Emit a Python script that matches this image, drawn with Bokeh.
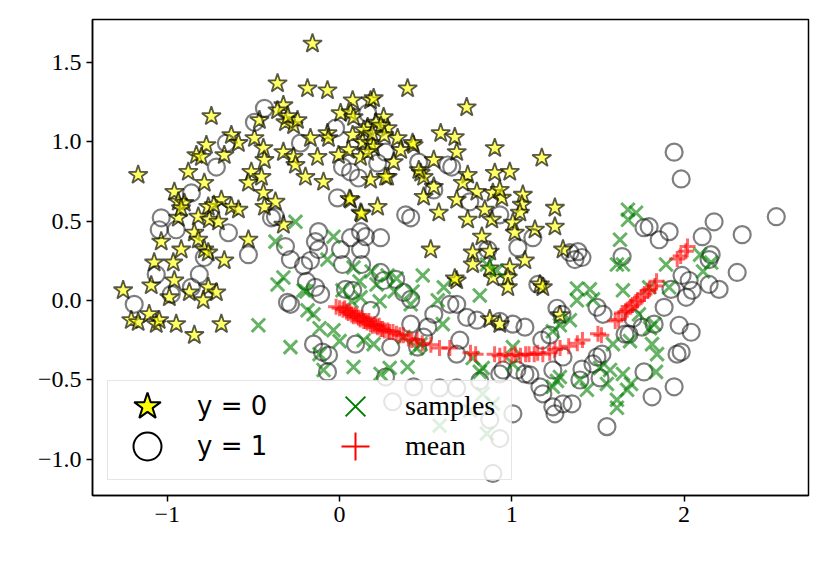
from bokeh.plotting import figure
from bokeh.models import Range1d, FixedTicker, Legend, LegendItem, ColumnDataSource
from bokeh.embed import file_html
from bokeh.resources import INLINE

# ---- data ----
star_pts = [(-0.157,1.618),(-0.360,1.367),(-0.186,1.335),(-0.070,1.323),(0.395,1.335),(-0.744,1.160),(-1.169,0.790),(-0.773,0.978),(-0.831,0.915),(-0.802,0.903),(-0.628,1.041),(-0.587,0.991),(-0.669,0.915),(-0.878,0.809),(-0.785,0.740),(-0.959,0.683),(-0.936,0.621),(-0.901,0.614),(-0.762,0.589),(-0.686,0.633),(-0.628,0.589),(-0.587,0.571),(-0.820,0.527),(-0.756,0.508),(-0.703,0.495),(-0.936,0.520),(-1.035,0.370),(-0.843,0.426),(-0.820,0.382),(-0.919,0.320),(-0.785,0.320),(-0.762,0.301),(-0.529,0.382),(-0.494,1.022),(-0.442,0.959),(-0.436,0.884),(-0.512,0.809),(-0.453,0.777),(-0.529,0.740),(-0.442,0.677),(-0.436,0.589),(-0.465,1.135),(-0.326,1.229),(-0.360,1.197),(-0.314,1.122),(-0.267,1.103),(-0.244,1.135),(-0.169,1.022),(-0.070,1.053),(-0.064,1.022),(0.076,1.260),(0.180,1.260),(0.198,1.273),(0.006,1.179),(0.064,1.185),(0.081,1.154),(0.256,1.154),(0.279,1.085),(0.163,1.091),(0.140,1.072),(0.076,1.041),(0.134,0.997),(0.180,0.991),(0.198,0.966),(0.337,1.022),(0.430,0.978),(0.424,0.991),(0.355,0.947),(0.314,0.871),(0.279,0.777),(0.052,0.947),(-0.006,0.915),(0.122,0.903),(0.163,0.934),(0.180,0.759),(0.267,0.777),(-0.326,0.934),(-0.267,0.903),(-0.256,0.853),(-0.128,0.903),(-0.198,0.777),(-0.093,0.746),(0.471,0.803),(0.488,0.777),(0.547,0.884),(0.587,1.053),(0.488,0.652),(0.547,0.715),(0.064,0.633),(0.221,0.589),(0.122,0.552),(0.576,0.552),(-0.372,0.621),(-0.326,0.476),(0.529,0.320),(0.738,1.216),(0.669,1.028),(0.680,0.934),(0.901,0.959),(1.174,0.897),(0.744,0.790),(0.715,0.740),(0.797,0.683),(0.680,0.633),(0.901,0.803),(0.988,0.809),(0.890,0.677),(0.942,0.646),(0.930,0.696),(1.064,0.665),(1.058,0.602),(1.047,0.552),(0.843,0.571),(0.884,0.508),(0.744,0.508),(1.006,0.489),(1.017,0.426),(0.826,0.401),(1.134,0.445),(1.250,0.583),(1.250,0.464),(0.872,0.307),(0.773,0.301),(1.297,0.320),(-1.256,0.063),(-1.093,0.094),(-1.076,0.238),(-0.965,0.238),(-0.959,0.125),(-1.209,-0.125),(-1.169,-0.138),(-1.105,-0.088),(-1.064,-0.150),(-1.047,-0.125),(-0.948,-0.150),(-0.843,-0.219),(-0.686,-0.150),(-0.762,0.082),(-0.715,0.050),(-0.791,0.0),(-0.872,0.050),(-0.988,0.019),(-0.669,0.251),(0.680,0.125),(0.988,0.207),(0.977,0.144),(0.977,0.082),(0.890,0.144),(1.163,0.100),(1.180,0.082),(0.872,-0.119),(0.930,-0.150),(1.279,-0.094),(1.076,0.251),(0.773,0.226),(0.058,0.639),(0.128,0.545),(0.669,0.138),(0.872,0.201),(0.21,1.12),(0.24,1.10),(0.19,1.05),(0.26,1.04),(0.46,0.82),(-0.30,1.16),(-0.92,0.58),(-0.73,0.60)]

circle_pts = [(-0.436,1.210),(-0.494,1.122),(-0.657,0.991),(-0.715,0.840),(-0.860,0.677),(-1.035,0.520),(-1.047,0.445),(-0.948,0.445),(-0.645,0.426),(-0.529,0.288),(-0.785,0.270),(-0.395,0.520),(-0.023,1.085),(-0.227,0.991),(0.163,1.179),(0.267,0.934),(0.221,0.865),(0.017,0.840),(0.064,0.809),(0.110,0.771),(0.459,0.871),(0.547,0.696),(0.628,0.853),(-0.012,0.646),(0.384,0.539),(0.413,0.520),(-0.372,0.527),(-0.314,0.339),(-0.122,0.433),(-0.140,0.370),(-0.122,0.320),(0.064,0.395),(0.122,0.433),(0.151,0.401),(0.238,0.395),(0.122,0.320),(0.006,0.320),(0.651,0.840),(0.756,0.621),(0.930,0.539),(1.122,0.395),(1.035,0.332),(0.860,0.320),(1.384,0.307),(1.337,0.301),(1.640,0.276),(1.942,0.934),(1.983,0.765),(2.535,0.527),(2.174,0.495),(1.797,0.464),(1.767,0.458),(1.913,0.433),(1.855,0.382),(2.105,0.401),(2.337,0.414),(2.157,0.288),(-1.064,0.163),(-0.977,0.038),(-0.860,0.082),(-0.814,0.163),(-1.192,-0.025),(-0.302,-0.013),(-0.285,-0.025),(-0.285,0.257),(-0.209,0.219),(-0.169,0.251),(-0.140,0.082),(-0.110,0.038),(-0.151,-0.276),(-0.099,-0.326),(-0.064,-0.345),(-0.070,-0.451),(0.035,0.069),(0.076,0.063),(0.093,-0.276),(0.238,0.176),(0.256,0.125),(0.326,0.132),(0.372,0.050),(0.413,0.006),(0.180,-0.063),(0.297,-0.295),(0.453,-0.295),(0.488,-0.232),(0.413,-0.150),(0.547,-0.088),(0.512,-0.169),(0.267,-0.483),(0.430,-0.545),(0.308,-0.639),(0.640,-0.025),(0.738,-0.107),(0.797,-0.125),(1.006,-0.150),(1.076,-0.169),(1.151,0.100),(1.291,-0.088),(1.221,-0.219),(1.174,-0.251),(1.494,-0.044),(1.529,-0.088),(1.297,-0.357),(1.238,-0.439),(1.407,-0.433),(1.395,-0.502),(1.523,-0.339),(1.494,-0.357),(1.163,-0.545),(1.180,-0.589),(1.238,-0.671),(1.250,-0.715),(1.297,-0.652),(1.349,-0.652),(1.006,-0.715),(1.552,-0.796),(1.029,-0.439),(1.076,-0.464),(1.105,-0.470),(0.948,-0.439),(0.698,-0.251),(0.680,-0.339),(0.872,-0.752),(0.930,-0.871),(0.890,-1.091),(1.407,0.270),(1.366,0.257),(1.657,-0.213),(2.308,0.176),(1.988,0.157),(2.029,0.125),(2.047,0.063),(2.012,0.019),(2.145,0.100),(2.203,0.069),(1.924,0.069),(1.884,-0.044),(1.971,-0.157),(2.041,-0.201),(1.826,-0.150),(1.756,-0.169),(1.680,-0.213),(1.983,-0.326),(1.767,-0.451),(1.942,-0.545),(1.814,-0.608),(2.145,0.257),(0.017,0.226),(0.128,0.226),(-0.192,0.119),(0.680,-0.025),(0.930,-0.132),(1.262,-0.050),(1.703,-0.113),(1.959,-0.339),(0.814,-0.508),(0.930,-0.464),(1.471,-0.401),(1.512,-0.489),(0.581,-0.552),(0.680,-0.552)]

sample_pts = [(-0.256,0.495),(-0.035,0.401),(-0.372,0.370),(1.628,0.382),(1.674,0.571),(1.674,0.508),(1.721,0.552),(-0.471,-0.157),(-0.326,0.144),(-0.360,0.100),(-0.209,0.063),(-0.285,-0.295),(-0.151,-0.088),(-0.186,-0.063),(-0.035,-0.188),(-0.093,-0.439),(0.081,-0.420),(-0.070,0.257),(0.081,0.207),(0.279,0.157),(0.483,0.157),(0.017,0.063),(0.122,0.019),(0.413,-0.025),(0.140,-0.251),(0.198,-0.276),(0.372,-0.232),(0.471,-0.276),(0.238,-0.464),(0.395,-0.420),(0.570,0.0),(0.605,0.082),(0.814,0.031),(1.453,0.069),(1.471,0.006),(1.378,0.0),(1.337,-0.125),(1.279,-0.157),(1.238,-0.545),(1.279,-0.483),(1.395,-0.502),(1.436,-0.564),(1.552,-0.527),(1.610,-0.627),(1.570,-0.439),(0.831,-0.589),(0.855,-0.840),(0.890,-0.652),(0.814,-0.451),(0.913,0.188),(1.645,0.226),(1.645,0.063),(1.645,-0.464),(1.669,-0.564),(1.006,-0.295),(1.895,0.226),(2.157,0.238),(1.797,0.082),(1.913,0.082),(1.826,-0.150),(1.814,-0.276),(1.837,-0.451),(1.692,-0.527),(1.738,-0.088),(-0.192,0.056),(0.116,0.119),(0.215,0.100),(0.331,0.138),(0.424,0.056),(0.855,0.226),(-0.116,-0.176),(0.0,-0.257),(-0.116,-0.339),(0.291,-0.426),(0.448,-0.301),(0.599,-0.150),(0.773,-0.364),(0.831,-0.426),(1.006,-0.401),(1.238,-0.195),(1.262,-0.508),(1.378,0.075),(1.610,0.226),(1.587,-0.276),(1.686,-0.257),(1.802,-0.176),(1.843,-0.339),(2.093,0.288),(2.110,0.182),(1.512,-0.426),(1.610,-0.677),(0.581,-0.790),(0.756,-0.696),(0.186,0.182),(0.320,0.056),(0.233,-0.006),(0.070,-0.006)]

mean_pts = [(-0.02,-0.04),(0.0,-0.05),(0.02,-0.06),(0.03,-0.05),(0.04,-0.07),(0.05,-0.08),(0.06,-0.07),(0.07,-0.09),(0.08,-0.10),(0.09,-0.09),(0.10,-0.10),(0.11,-0.11),(0.12,-0.12),(0.13,-0.11),(0.14,-0.13),(0.15,-0.13),(0.16,-0.14),(0.17,-0.13),(0.18,-0.15),(0.19,-0.16),(0.20,-0.15),(0.21,-0.16),(0.22,-0.17),(0.23,-0.16),(0.24,-0.18),(0.25,-0.18),(0.26,-0.19),(0.28,-0.19),(0.29,-0.20),(0.31,-0.20),(0.33,-0.21),(0.35,-0.22),(0.37,-0.22),(0.40,-0.24),(0.42,-0.25),(0.45,-0.25),(0.48,-0.27),(0.53,-0.28),(0.58,-0.30),(0.64,-0.30),(0.76,-0.33),(0.79,-0.34),(0.90,-0.34),(0.93,-0.35),(0.96,-0.34),(1.00,-0.35),(1.02,-0.34),(1.05,-0.35),(1.08,-0.34),(1.10,-0.34),(1.13,-0.34),(1.15,-0.33),(1.18,-0.34),(1.22,-0.33),(1.25,-0.31),(1.28,-0.30),(1.33,-0.29),(1.38,-0.27),(1.41,-0.25),(1.50,-0.21),(1.52,-0.22),(1.60,-0.13),(1.62,-0.12),(1.64,-0.08),(1.66,-0.07),(1.67,-0.06),(1.69,-0.04),(1.70,-0.03),(1.72,-0.01),(1.73,0.0),(1.75,0.02),(1.77,0.04),(1.79,0.06),(1.80,0.07),(1.83,0.09),(1.84,0.12),(1.96,0.26),(1.98,0.28),(2.01,0.31),(2.02,0.34)]

star_x = [a for a, b in star_pts]; star_y = [b for a, b in star_pts]
circ_x = [a for a, b in circle_pts]; circ_y = [b for a, b in circle_pts]
samp_x = [a for a, b in sample_pts]; samp_y = [b for a, b in sample_pts]
mean_x = [a for a, b in mean_pts]; mean_y = [b for a, b in mean_pts]

x_ticks = [-1, 0, 1, 2]
y_ticks = [-1.0, -0.5, 0.0, 0.5, 1.0, 1.5]
x_tick_labels = {-1: "\u22121", 0: "0", 1: "1", 2: "2"}
y_tick_labels = {-1.0: "\u22121.0", -0.5: "\u22120.5", 0.0: "0.0", 0.5: "0.5", 1.0: "1.0", 1.5: "1.5"}

# ---- figure ----
p = figure(frame_width=716, frame_height=476,
           x_range=Range1d(-1.434, 2.722), y_range=Range1d(-1.230, 1.770),
           output_backend="svg", toolbar_location=None,
           min_border_left=92, min_border_top=19, min_border_right=12, min_border_bottom=50)
p.xgrid.visible = False
p.ygrid.visible = False
p.outline_line_color = "black"
p.outline_line_width = 1.5
p.background_fill_color = "white"

for ax in (p.xaxis[0], p.yaxis[0]):
    ax.major_label_text_font = "Liberation Serif"
    ax.major_label_text_font_size = "24px"
    ax.major_label_text_color = "black"
    ax.axis_line_width = 1.5
    ax.major_tick_line_width = 1.5
    ax.major_tick_out = 6
    ax.major_tick_in = 0
    ax.minor_tick_out = 0
    ax.minor_tick_in = 0
    ax.major_label_standoff = 5

p.xaxis.ticker = FixedTicker(ticks=x_ticks)
p.yaxis.ticker = FixedTicker(ticks=y_ticks)
p.xaxis.major_label_overrides = x_tick_labels
p.yaxis.major_label_overrides = y_tick_labels

src_s = ColumnDataSource(dict(x=star_x, y=star_y))
src_c = ColumnDataSource(dict(x=circ_x, y=circ_y))
src_g = ColumnDataSource(dict(x=samp_x, y=samp_y))
src_m = ColumnDataSource(dict(x=mean_x, y=mean_y))

p.scatter("x", "y", source=src_s, marker="star", size=20, fill_color="yellow",
          line_color="black", fill_alpha=0.6, line_alpha=0.65, line_width=1.8)
p.scatter("x", "y", source=src_c, marker="circle", size=17, fill_color=None,
          line_color="black", line_alpha=0.5, line_width=2.2)
p.scatter("x", "y", source=src_g, marker="x", size=19, line_color="green",
          line_alpha=0.6, line_width=3)
p.scatter("x", "y", source=src_m, marker="cross", size=16, line_color="red",
          line_alpha=0.6, line_width=3)

# hidden proxies that only supply opaque legend keys
k_s = p.scatter("x", "y", source=src_s, marker="star", size=20, fill_color="yellow",
                line_color="black", line_width=2, visible=False)
k_c = p.scatter("x", "y", source=src_c, marker="circle", size=17, fill_color=None,
                line_color="black", line_width=2, visible=False)
k_g = p.scatter("x", "y", source=src_g, marker="x", size=19, line_color="green",
                line_width=2, visible=False)
k_m = p.scatter("x", "y", source=src_m, marker="cross", size=16, line_color="red",
                line_width=2, visible=False)
k_none = p.scatter("x", "y", source=src_c, marker="circle", size=1, fill_alpha=0,
                   line_alpha=0, visible=False)

# legend frame (one empty item sized to the box)
frame = Legend(items=[LegendItem(label=" ", renderers=[k_none])],
               location=(15, 15), padding=0, spacing=0,
               glyph_width=20, glyph_height=98, label_standoff=0,
               label_width=383, label_height=98,
               border_line_color="#cccccc", border_line_width=1.5,
               background_fill_color="white", background_fill_alpha=0.8)
p.add_layout(frame, "center")

def key(label, rend, x, y, font, fsize):
    return Legend(items=[LegendItem(label=label, renderers=[rend])],
                  location=(x, y), padding=0, spacing=0,
                  glyph_width=80, glyph_height=70, label_standoff=10,
                  label_height=40, label_text_font=font,
                  label_text_font_size=fsize, label_text_color="black",
                  border_line_alpha=0, background_fill_alpha=0)

p.add_layout(key("y = 0", k_s, 15, 54, "DejaVu Sans", "26px"), "center")
p.add_layout(key("y = 1", k_c, 15, 14, "DejaVu Sans", "26px"), "center")
p.add_layout(key("samples", k_g, 223, 54, "Liberation Serif", "28px"), "center")
p.add_layout(key("mean", k_m, 223, 14, "Liberation Serif", "28px"), "center")

open("out.html", "w").write(file_html(p, INLINE))
